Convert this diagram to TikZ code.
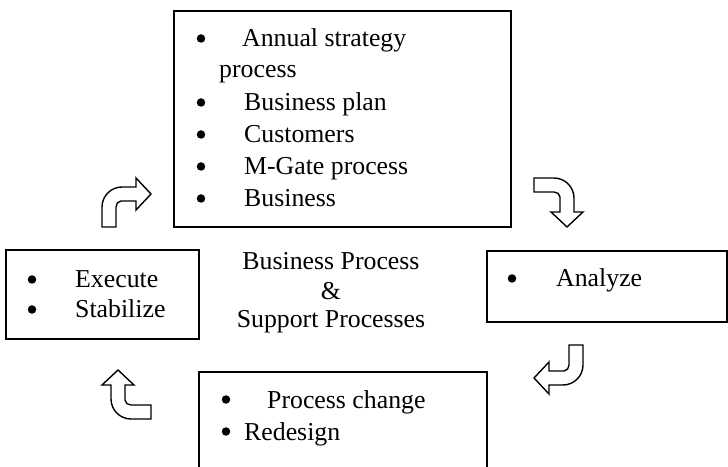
\documentclass[tikz,border=0pt]{standalone}
\usepackage{fontspec}
\setmainfont{Liberation Serif}

\begin{document}
\begin{tikzpicture}[x=1pt,y=1pt,
    txt/.style={anchor=base west,inner sep=0pt,font=\fontsize{25.8}{30}\selectfont},
    dot/.style={circle,fill,inner sep=0pt,minimum size=8.5pt},
    mid/.style={anchor=base,inner sep=0pt,font=\fontsize{25.8}{30}\selectfont},
    box/.style={draw,line width=1.8pt},
    bent/.pic={
      \filldraw[fill=white,line width=1.4pt,line join=miter]
        (-24.5,-24.5) -- (-24.5,-4.5)
        .. controls (-24.5,6.5) and (-15.5,15.5) .. (-4.5,15.5)
        -- (9.5,15.5) -- (9.5,24.5) -- (24.5,8.5) -- (9.5,-7.5) -- (9.5,1.5)
        -- (-5.5,1.5) .. controls (-8.5,1.5) and (-10.5,-1.5) .. (-10.5,-4.5)
        -- (-10.5,-24.5) -- cycle;
    }]
  \useasboundingbox (0,0) rectangle (728,466);
  \clip (0,0) rectangle (728,466);

  % boxes
  \draw[box] (174,455) rectangle (511,239);
  \draw[box] (6,216) rectangle (199,127);
  \draw[box] (487,215) rectangle (727,144);
  \draw[box] (199,94) rectangle (487,-20);

  % top box
  \node[dot] (d1) at (201,427.5) {};
  \node[txt] (annual) at (242,419) {Annual strategy};
  \node[txt] (annual2) at (219,388) {process};
  \node[dot] (d2) at (201,363.5) {};
  \node[txt] (plan) at (244,355) {Business plan};
  \node[dot] (d3) at (201,331.5) {};
  \node[txt] (cust) at (244,323) {Customers};
  \node[dot] (d4) at (201,299.5) {};
  \node[txt] (mgate) at (244,291) {M-Gate process};
  \node[dot] (d5) at (201,267.5) {};
  \node[txt] (bus) at (244,259) {Business};

  % left box
  \node[dot] (d6) at (32,186.5) {};
  \node[txt] (exec) at (75,178) {Execute};
  \node[dot] (d7) at (32,156.5) {};
  \node[txt] (stab) at (75,148) {Stabilize};

  % right box
  \node[dot] (d8) at (512,187.5) {};
  \node[txt] (anal) at (556,179) {Analyze};

  % bottom box
  \node[dot] (d9) at (226,66.5) {};
  \node[txt] (change) at (267,58) {Process change};
  \node[dot] (d10) at (226,34.5) {};
  \node[txt] (redes) at (244,26) {Redesign};

  % centre
  \node[mid] (bp) at (331,196) {Business Process};
  \node[mid] (amp) at (331,166) {\&};
  \node[mid] (sp) at (331,138) {Support Processes};

  % turning arrows
  \pic at (126.5,263.5) {bent};
  \pic[rotate=-90] at (558.5,263.5) {bent};
  \pic[rotate=180] at (558.5,96.5) {bent};
  \pic[rotate=90] at (126.5,71.5) {bent};
\end{tikzpicture}
\end{document}
